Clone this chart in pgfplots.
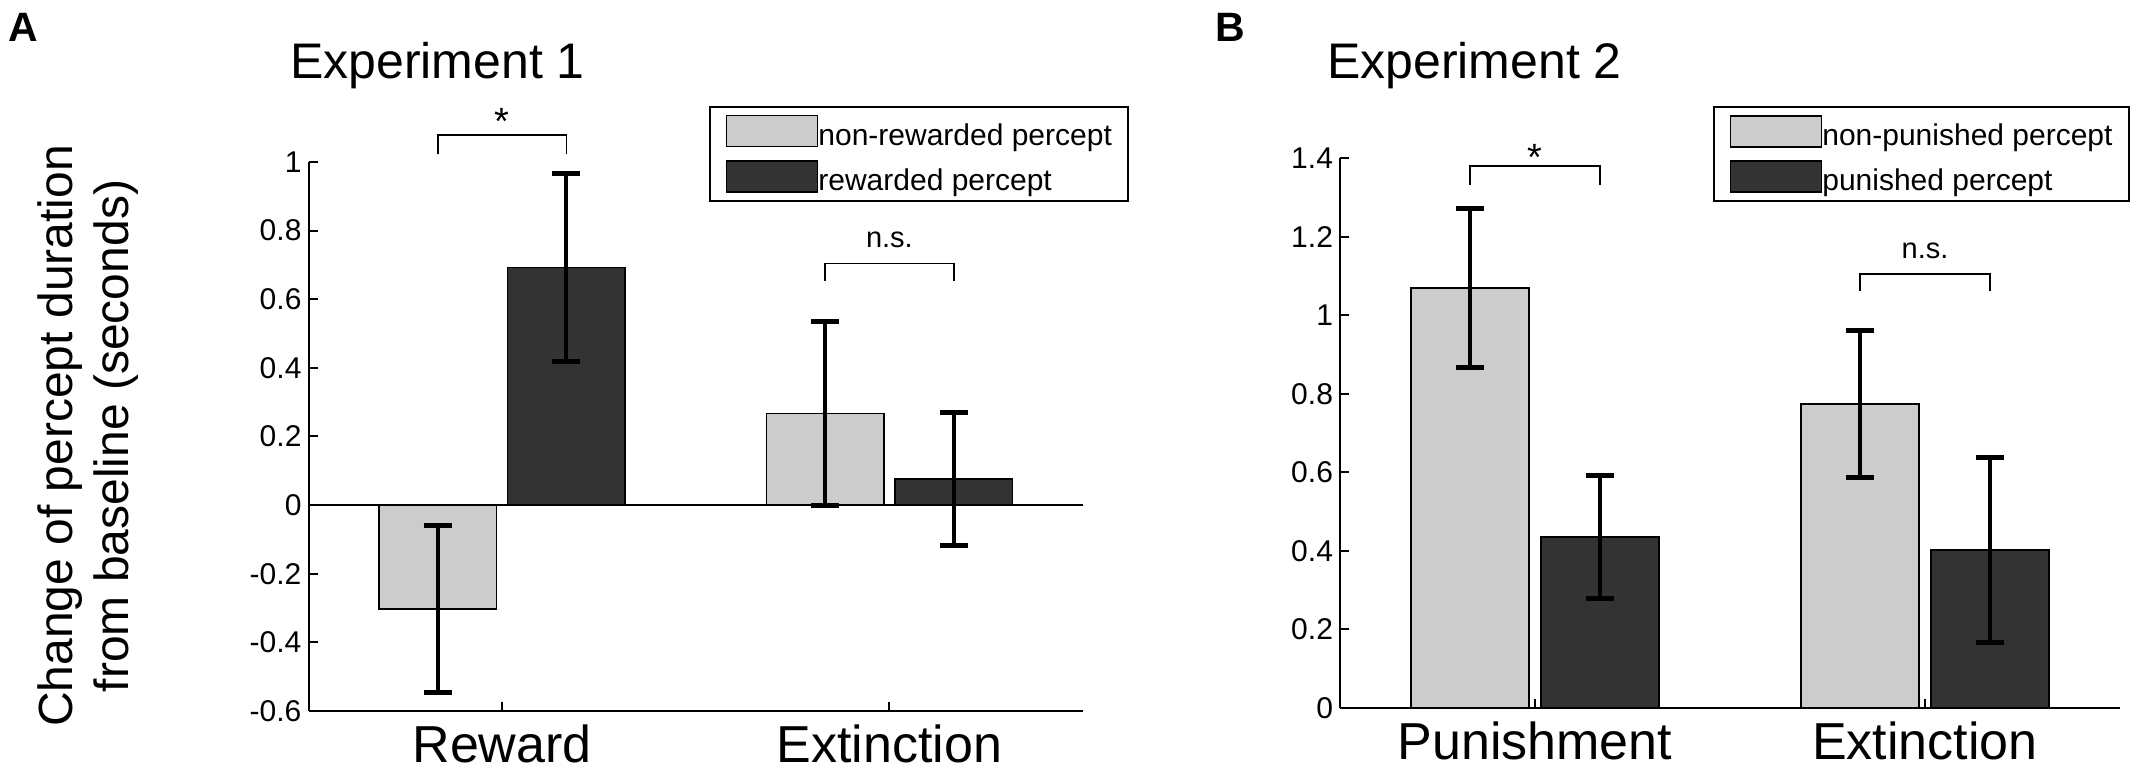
\documentclass[border=0pt]{standalone}
\usepackage{fontspec}
\setmainfont{Liberation Sans}
\usepackage{pgfplots}
\pgfplotsset{compat=1.18}
\definecolor{lightbar}{gray}{0.8}
\definecolor{darkbar}{gray}{0.2}
\pgfplotsset{
  myaxis/.style={
    scale only axis, anchor=south west, clip=false,
    xmin=0.5, xmax=2.5, xtick={1,2},
    axis x line*=bottom, axis y line*=left,
    axis line style={line width=1pt, black},
    tick align=inside, major tick length=4.5pt,
    every tick/.style={black, line width=1pt},
    xticklabel style={font=\fontsize{26}{30}\selectfont, yshift=-3.5pt},
    yticklabel style={font=\fontsize{15}{18}\selectfont},
    legend image code/.code={\draw[#1, line width=0.75pt] (0pt,-5.5pt) rectangle (45.5pt,10pt);},
    legend cell align=left,
    legend style={draw=black, line width=1pt, font=\fontsize{15}{18}\selectfont,
      anchor=north west, inner xsep=8pt, inner ysep=4pt, row sep=6pt,
      nodes={inner sep=0pt, text=black}},
    /tikz/every even column/.append style={column sep=2pt},
  },
  bars/.style={ybar, bar width=0.303, bar shift=0pt, draw=black, line width=0.75pt,
    error bars/y dir=both, error bars/y explicit,
    error bars/error bar style={line width=2pt, black},
    error bars/error mark options={rotate=90, mark size=7pt, line width=2.5pt, black}},
  bracket/.style={black, line width=0.9pt, forget plot},
}
\begin{document}
\begin{tikzpicture}
\useasboundingbox (0,0) rectangle (1066.5pt,390pt);
% panel labels and titles
\node[anchor=north west, inner sep=0pt, font=\fontsize{20.5}{24}\selectfont\bfseries] at (4pt,383.5pt) {A};
\node[anchor=north west, inner sep=0pt, font=\fontsize{20.5}{24}\selectfont\bfseries] at (607.5pt,383.5pt) {B};
\node[anchor=base, inner sep=0pt, font=\fontsize{25}{30}\selectfont] at (218.75pt,350.5pt) {Experiment 1};
\node[anchor=base, inner sep=0pt, font=\fontsize{25}{30}\selectfont] at (737.25pt,350.5pt) {Experiment 2};
\node[rotate=90, align=center, inner sep=0pt, font=\fontsize{24}{28}\selectfont] at (44.25pt,172pt)
  {Change of percept duration\\from baseline (seconds)};

% ---------------- Panel A ----------------
\begin{axis}[myaxis,
  at={(154.25pt,34.5pt)}, width=387.25pt, height=274.5pt,
  ymin=-0.6, ymax=1,
  ytick={-0.6,-0.4,-0.2,0,0.2,0.4,0.6,0.8,1},
  yticklabels={-0.6,-0.4,-0.2,0,0.2,0.4,0.6,0.8,1},
  xticklabels={Reward,Extinction},
  legend style={at={(0.517,1.102)}},
]
\addplot[black, line width=1pt, forget plot] coordinates {(0.5,0) (2.5,0)};
% non-rewarded percept (Reward, Extinction)
\addplot[bars, fill=lightbar] coordinates {(0.834,-0.303) +- (0,0.244) (1.834,0.267) +- (0,0.267)};
% rewarded percept (Reward, Extinction)
\addplot[bars, fill=darkbar] coordinates {(1.166,0.692) +- (0,0.273) (2.166,0.076) +- (0,0.194)};
\legend{non-rewarded percept, rewarded percept}
\addplot[bracket] coordinates {(0.834,1.023) (0.834,1.079) (1.166,1.079) (1.166,1.023)};
\addplot[bracket] coordinates {(1.834,0.654) (1.834,0.704) (2.166,0.704) (2.166,0.654)};
\node[anchor=base, inner sep=0pt, font=\fontsize{19}{22}\selectfont] at (axis cs:1,1.079) {*};
\node[anchor=base, inner sep=0pt, font=\fontsize{14.5}{17}\selectfont] at (axis cs:2,0.751) {n.s.};
\end{axis}

% ---------------- Panel B ----------------
\begin{axis}[myaxis,
  at={(670pt,36pt)}, width=390pt, height=275pt,
  ymin=0, ymax=1.4,
  ytick={0,0.2,0.4,0.6,0.8,1,1.2,1.4},
  yticklabels={0,0.2,0.4,0.6,0.8,1,1.2,1.4},
  xticklabels={Punishment,Extinction},
  legend style={at={(0.478,1.0945)}},
]
% non-punished percept (Punishment, Extinction)
\addplot[bars, fill=lightbar] coordinates {(0.833,1.069) +- (0,0.203) (1.833,0.774) +- (0,0.188)};
% punished percept (Punishment, Extinction)
\addplot[bars, fill=darkbar] coordinates {(1.167,0.435) +- (0,0.157) (2.167,0.402) +- (0,0.235)};
\legend{non-punished percept, punished percept}
\addplot[bracket] coordinates {(0.834,1.331) (0.834,1.38) (1.166,1.38) (1.166,1.331)};
\addplot[bracket] coordinates {(1.834,1.062) (1.834,1.104) (2.166,1.104) (2.166,1.062)};
\node[anchor=base, inner sep=0pt, font=\fontsize{19}{22}\selectfont] at (axis cs:1,1.369) {*};
\node[anchor=base, inner sep=0pt, font=\fontsize{14.5}{17}\selectfont] at (axis cs:2,1.145) {n.s.};
\end{axis}
\end{tikzpicture}
\end{document}
